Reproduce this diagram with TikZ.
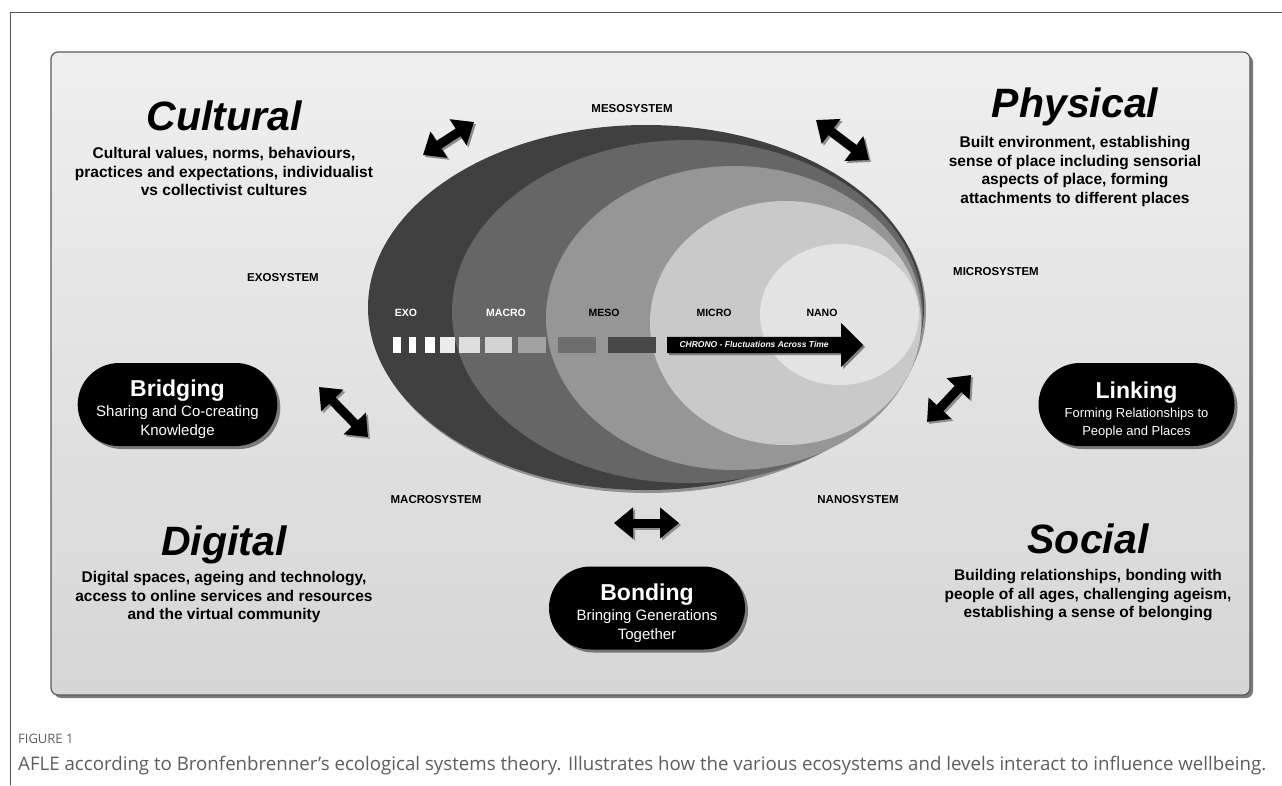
\documentclass[tikz,border=0pt]{standalone}
\usepackage{fontspec}
\setmainfont{Liberation Sans}
\newfontfamily\captionfont{Open Sans}
\usepackage{xcolor}
\usepackage{tikz}
\usetikzlibrary{arrows.meta, shapes.misc, shapes.arrows, shadows, positioning}

% Bảng màu xám
\definecolor{frameline}{HTML}{555555}
\definecolor{panelline}{HTML}{5A5A5A}
\definecolor{panelTop}{HTML}{EFEFEF}
\definecolor{panelBot}{HTML}{D6D6D6}
\definecolor{ringA}{HTML}{404040}
\definecolor{ringB}{HTML}{666666}
\definecolor{ringC}{HTML}{969696}
\definecolor{ringD}{HTML}{C9C9C9}
\definecolor{ringE}{HTML}{E3E3E3}
\definecolor{sqA}{HTML}{ECECEC}
\definecolor{sqB}{HTML}{DEDEDE}
\definecolor{sqC}{HTML}{D3D3D3}
\definecolor{sqD}{HTML}{A2A2A2}
\definecolor{sqE}{HTML}{6E6E6E}
\definecolor{sqF}{HTML}{474747}
\definecolor{capgray}{HTML}{5E5E5E}

% Dòng tiêu đề đậm trong nhãn viên thuốc (thanh \rule đẩy khối chữ xuống một chút)
\newcommand{\pilltitle}[1]{{\bfseries\fontsize{23}{27}\selectfont\rule{0pt}{27pt}#1}\\[1pt]}

\tikzset{
    sysname/.style={font=\bfseries\fontsize{11.5}{13}\selectfont},
    levelname/.style={font=\bfseries\fontsize{10.5}{12}\selectfont},
    bigtitle/.style={font=\bfseries\itshape\fontsize{41}{46}\selectfont, inner sep=0pt},
    blurb/.style={font=\bfseries\fontsize{15.5}{18.7}\selectfont, align=center, inner sep=0pt},
    pill/.style={rounded rectangle, fill=black, text=white, minimum width=196pt,
        minimum height=83pt, align=center, inner sep=0pt,
        font=\fontsize{15}{19}\selectfont,
        drop shadow={shadow xshift=3pt, shadow yshift=-3pt, fill=black, opacity=.45}},
    dblarrow/.style={line width=9pt,
        {Triangle[width=30pt,length=19pt]}-{Triangle[width=30pt,length=19pt]}},
    dblshadow/.style={dblarrow, draw=black!45, transform canvas={xshift=2pt, yshift=-2pt}},
    chrono/.style={single arrow, anchor=tail, fill=black, text=white,
        font=\bfseries\itshape\fontsize{8.5}{10}\selectfont,
        minimum height=196pt, single arrow head extend=14pt,
        single arrow tip angle=90, single arrow head indent=0pt,
        text height=6.5pt, text depth=1.5pt, inner ysep=4pt, inner xsep=6pt,
        drop shadow={shadow xshift=2pt, shadow yshift=-2pt, fill=black!60, opacity=.8}}
}

\begin{document}
\begin{tikzpicture}[x=1pt, y=-1pt]

    \useasboundingbox[fill=white] (0,0) rectangle (1282,785);

    % =================================================================
    % KHUNG NGOÀI VÀ BẢNG NỀN
    % =================================================================
    \draw[frameline, line width=0.9pt] (10,785) -- (10,12) -- (1282,12);

    \draw[panelline, line width=1.2pt, rounded corners=7pt,
        top color=panelTop, bottom color=panelBot,
        drop shadow={shadow xshift=3pt, shadow yshift=-3pt, fill=black!65, opacity=.8}]
        (51,52) rectangle (1250,695);

    % =================================================================
    % CÁC VÒNG ELIP LỒNG NHAU
    % =================================================================
    \begin{scope}
        \fill[ringA, drop shadow={shadow xshift=2pt, shadow yshift=-3pt, fill=black, opacity=.35}]
            (646,307.5) ellipse [x radius=278, y radius=182.5];
        \fill[ringB] (687.5,311.5) ellipse [x radius=235.5, y radius=171.5];
        \fill[ringC] (734,318) ellipse [x radius=188, y radius=152];
        \fill[ringD] (785.5,323) ellipse [x radius=135.5, y radius=122];
        \fill[ringE] (839.5,314.5) ellipse [x radius=79.5, y radius=70.5];
    \end{scope}

    % Tên các cấp bên trong
    \node[levelname, text=white] (exo) at (406,313) {EXO};
    \node[levelname, text=white] (macro) at (506,313) {MACRO};
    \node[levelname] (meso) at (604,313) {MESO};
    \node[levelname] (micro) at (714,313) {MICRO};
    \node[levelname] (nano) at (822,313) {NANO};

    % Dãy ô vuông và mũi tên thời gian
    \foreach \xa/\xb/\sq in {393/401/white, 409/416/white, 425/435/white,
        440/455/sqA, 459/480/sqB, 485/512/sqC, 518/546/sqD, 558/596/sqE, 608/656/sqF}
        \fill[\sq] (\xa,337) rectangle (\xb,353);

    \node[chrono] (chrono) at (667,345) {CHRONO - Fluctuations Across Time\hspace*{14pt}};

    % =================================================================
    % TÊN CÁC HỆ THỐNG
    % =================================================================
    \node[sysname] (mesosys) at (632,109) {MESOSYSTEM};
    \node[sysname] (exosys) at (283,278) {EXOSYSTEM};
    \node[sysname] (microsys) at (996,272) {MICROSYSTEM};
    \node[sysname] (macrosys) at (436,500) {MACROSYSTEM};
    \node[sysname] (nanosys) at (858,500) {NANOSYSTEM};

    % =================================================================
    % BỐN GÓC: TIÊU ĐỀ VÀ MÔ TẢ
    % =================================================================
    \node[bigtitle, anchor=base] (cultural) at (224,130) {Cultural};
    \node[blurb, below=17pt of cultural.base] (culturalTxt)
        {Cultural values, norms, behaviours,\\practices and expectations, individualist\\vs collectivist cultures};

    \node[bigtitle, anchor=base] (physical) at (1075,117) {Physical};
    \node[blurb, below=19pt of physical.base] (physicalTxt)
        {Built environment, establishing\\sense of place including sensorial\\aspects of place, forming\\attachments to different places};

    \node[bigtitle, anchor=base] (digital) at (224,555) {Digital};
    \node[blurb, below=16pt of digital.base] (digitalTxt)
        {Digital spaces, ageing and technology,\\access to online services and resources\\and the virtual community};

    \node[bigtitle, anchor=base] (social) at (1088,553) {Social};
    \node[blurb, below=16pt of social.base] (socialTxt)
        {Building relationships, bonding with\\people of all ages, challenging ageism,\\establishing a sense of belonging};

    % =================================================================
    % BA NHÃN HÌNH VIÊN THUỐC
    % =================================================================
    \node[pill] (bridging) at (177.5,404.5) {\pilltitle{Bridging}Sharing and Co-creating\\Knowledge};
    \node[pill, font=\fontsize{13}{18}\selectfont] (linking) at (1136.5,404.5)
        {\pilltitle{Linking}Forming Relationships to\\People and Places};
    \node[pill] (bonding) at (647,608) {\pilltitle{Bonding}Bringing Generations\\Together};

    % =================================================================
    % MŨI TÊN HAI CHIỀU
    % =================================================================
    \coordinate (culA) at (423,155);  \coordinate (culB) at (474,122);
    \coordinate (phyA) at (816,120);  \coordinate (phyB) at (869,160);
    \coordinate (briA) at (319,387);  \coordinate (briB) at (368,437);
    \coordinate (linA) at (927,422);  \coordinate (linB) at (971,375);
    \coordinate (bonA) at (614,523);  \coordinate (bonB) at (679,523);

    \foreach \a/\b in {culA/culB, phyA/phyB, briA/briB, linA/linB, bonA/bonB} {
        \draw[dblshadow] (\a) -- (\b);
        \draw[dblarrow] (\a) -- (\b);
    }

    % =================================================================
    % CHÚ THÍCH HÌNH
    % =================================================================
    \node[anchor=base west, inner sep=0pt, text=capgray,
        font=\captionfont\fontsize{13}{15}\selectfont] (figlabel) at (18,743) {FIGURE 1};
    \node[anchor=base west, inner sep=0pt, text=capgray,
        font=\captionfont\fontsize{18}{22}\selectfont] (figcaption) at (18,770)
        {\resizebox{1248pt}{!}{AFLE according to Bronfenbrenner’s ecological systems theory. Illustrates how the various ecosystems and levels interact to influence wellbeing.}};

\end{tikzpicture}
\end{document}
